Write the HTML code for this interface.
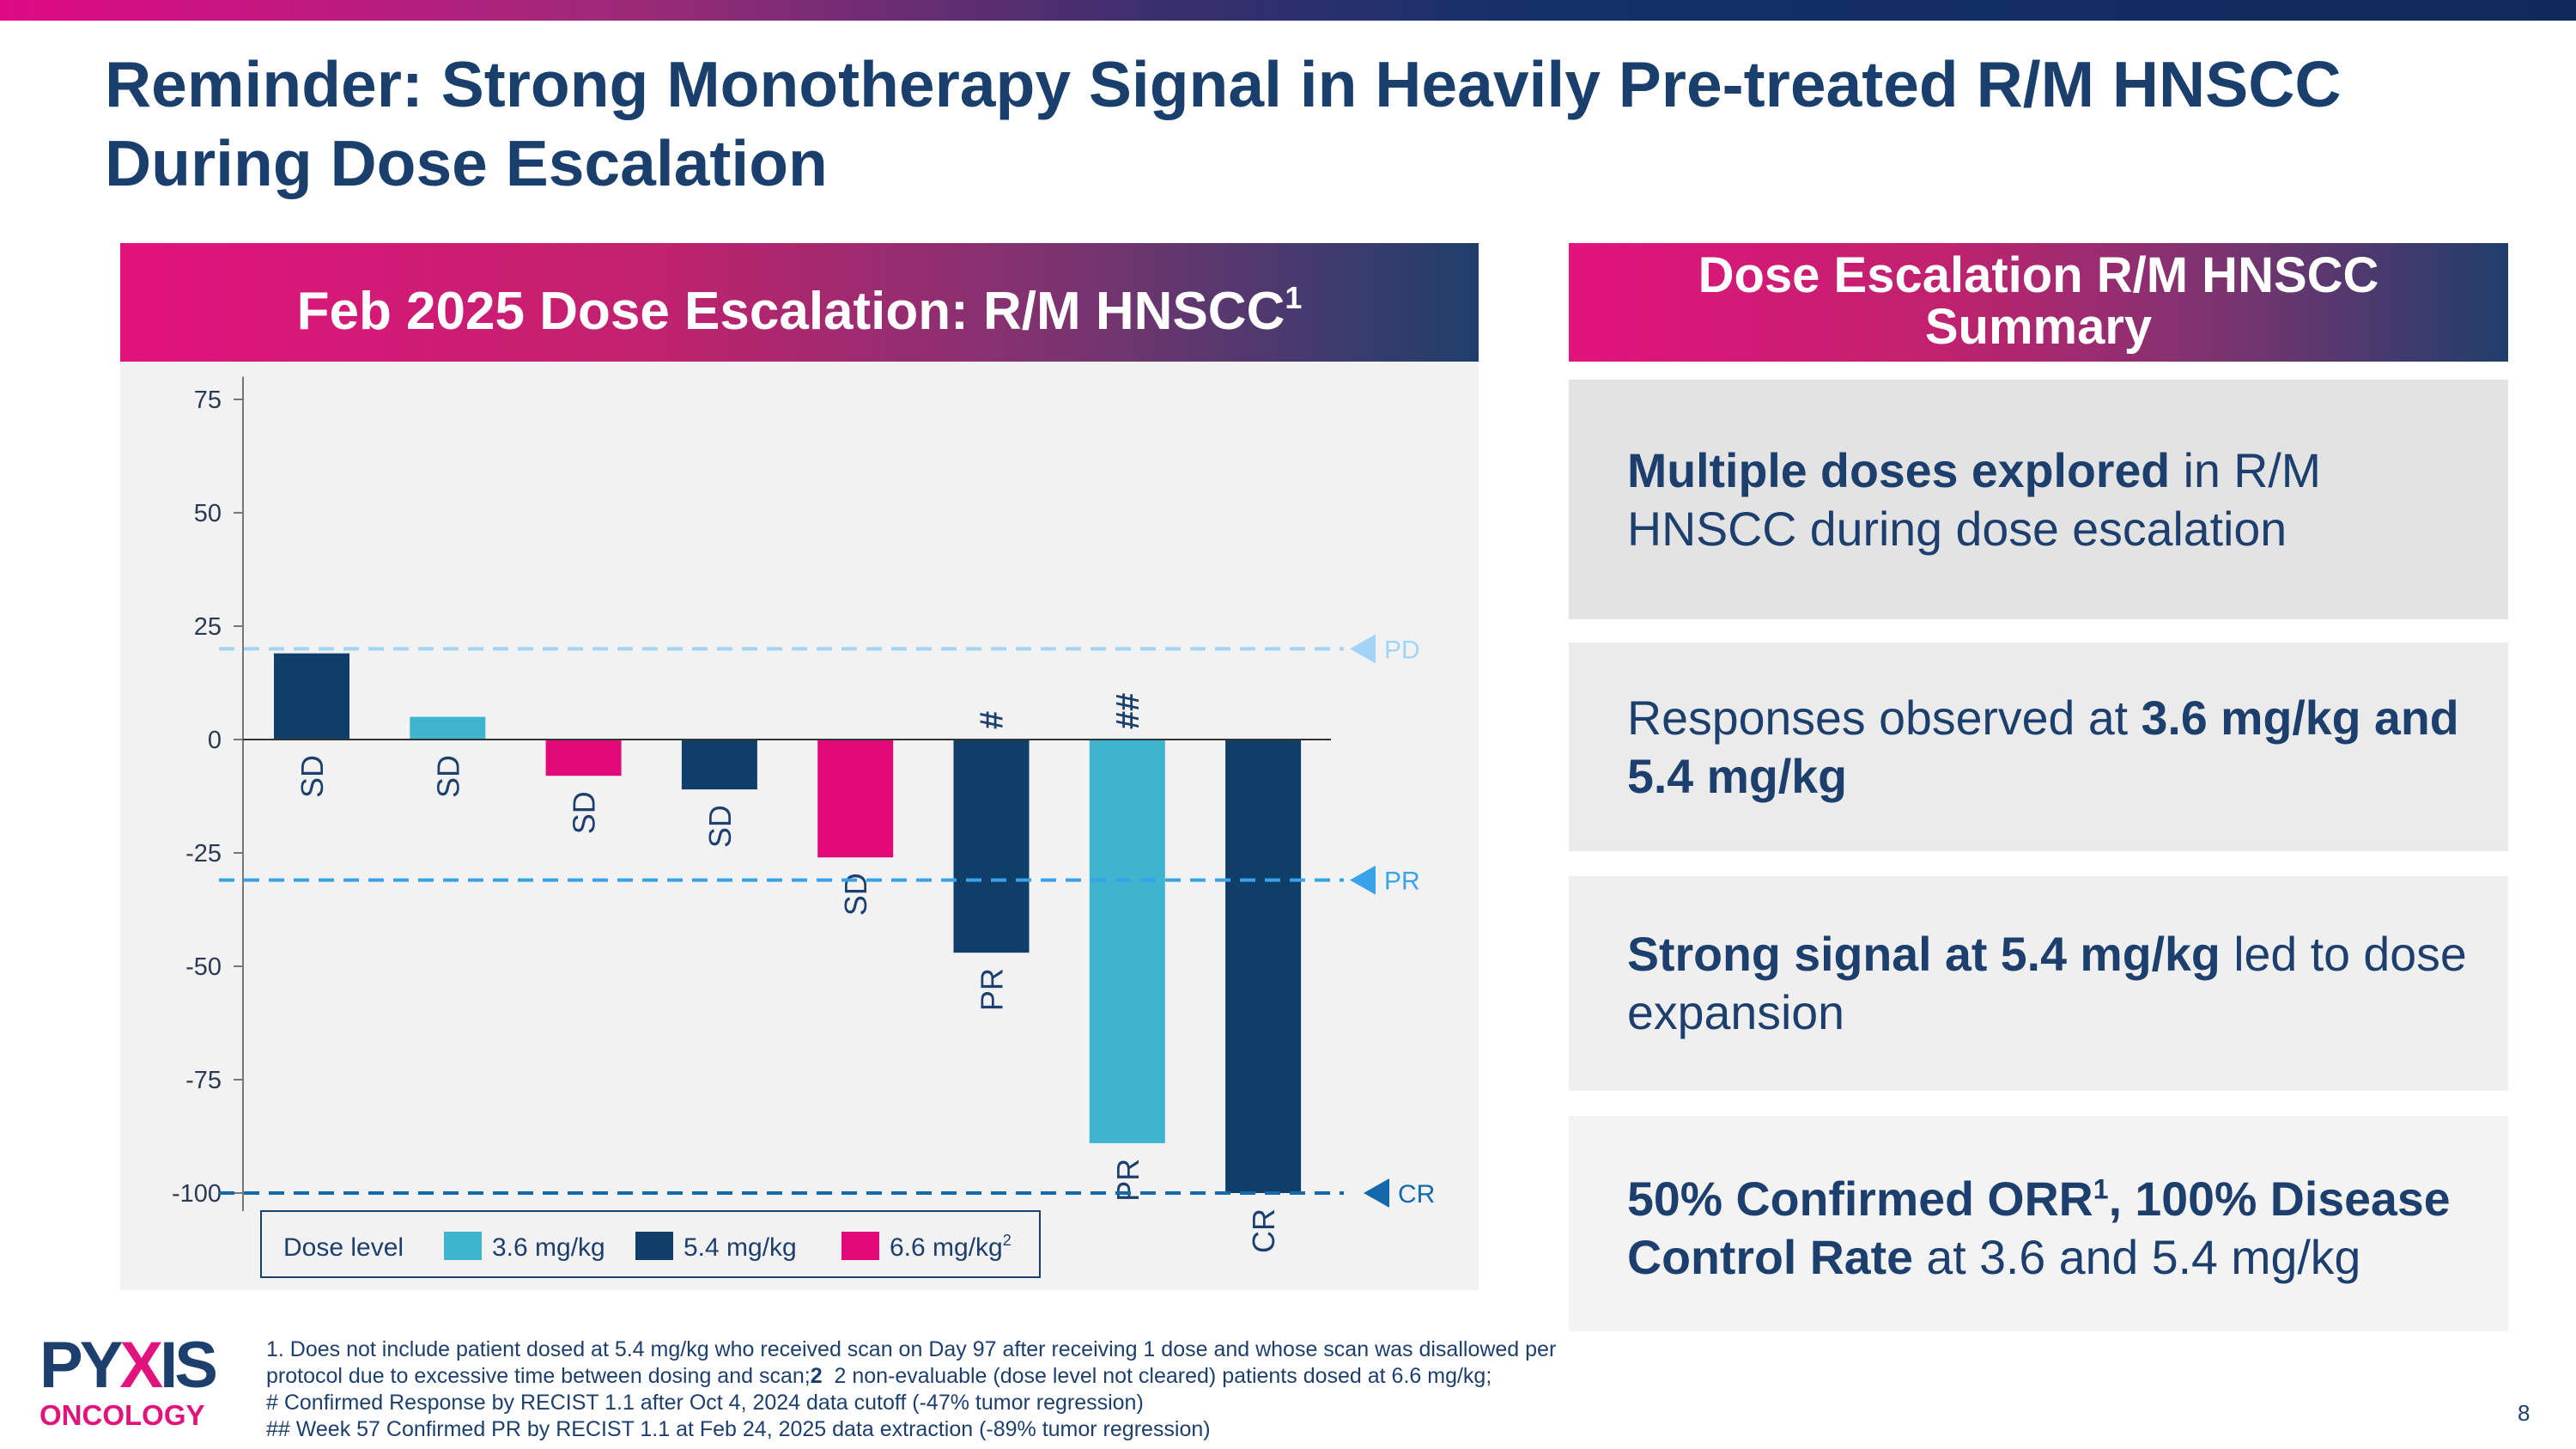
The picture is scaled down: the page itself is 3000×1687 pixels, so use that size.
<!DOCTYPE html>
<html><head><meta charset="utf-8"><style>
body{margin:0;width:3000px;height:1687px;background:#fff;position:relative;overflow:hidden;font-family:"Liberation Sans",Arial,sans-serif;color:#1d3f6e}
.abs{position:absolute}
.banner{left:0;top:0;width:3000px;height:24px;background:linear-gradient(90deg,#e10a86 0%,#9a2a78 25%,#3a2f6e 45%,#13306a 60%,#0f2a5a 100%)}
.title{left:122px;top:52px;font-size:75px;font-weight:bold;line-height:92px;color:#1a3f6c}
.hdr{background:linear-gradient(90deg,#e2137c 0%,#c0226f 40%,#7a3470 70%,#1f3e6c 100%);color:#fff;font-weight:bold;text-align:center}
.box{left:1827px;width:1094px;font-size:55.5px;line-height:68px;padding-left:68px;box-sizing:border-box;display:flex;align-items:center;color:#1d3f6e}
.fn{left:310px;top:1556px;font-size:25px;line-height:31px;color:#1d3f6e}
</style></head><body>
<div class="abs banner"></div>
<div class="abs title">Reminder: Strong Monotherapy Signal in Heavily Pre-treated R/M HNSCC<br>During Dose Escalation</div>

<div class="abs" style="left:140px;top:283px;width:1582px;height:1219px;background:#f2f2f2"></div>
<div class="abs hdr" style="left:140px;top:283px;width:1582px;height:138px;line-height:128px;font-size:62px">Feb 2025 Dose Escalation: R/M HNSCC<sup style="font-size:36px;vertical-align:24px">1</sup></div>

<svg class="abs" style="left:0;top:0" width="3000" height="1687" id="chart"></svg>

<div class="abs hdr" style="left:1827px;top:283px;width:1094px;height:138px;font-size:58px;line-height:60px;padding-top:8px;box-sizing:border-box">Dose Escalation R/M HNSCC<br>Summary</div>
<div class="abs box" style="top:442px;height:279px;background:#e3e3e3"><div><b>Multiple doses explored</b> in R/M<br>HNSCC during dose escalation</div></div>
<div class="abs box" style="top:748px;height:243px;background:#ebebeb"><div>Responses observed at <b>3.6 mg/kg and<br>5.4 mg/kg</b></div></div>
<div class="abs box" style="top:1020px;height:250px;background:#efefef"><div><b>Strong signal at 5.4 mg/kg</b> led to dose<br>expansion</div></div>
<div class="abs box" style="top:1299px;height:251px;background:#f3f3f3"><div><b>50% Confirmed ORR<sup style="font-size:32px">1</sup>, 100% Disease<br>Control Rate</b> at 3.6 and 5.4 mg/kg</div></div>

<div class="abs" style="left:46px;top:1552px;font-weight:bold;">
<div style="font-size:76px;line-height:76px;color:#1d3f6e;letter-spacing:-4px">PY<span style="color:#e2137c">X</span>IS</div>
<div style="font-size:33px;line-height:40px;color:#e2137c">ONCOLOGY</div></div>
<div class="abs fn">1. Does not include patient dosed at 5.4 mg/kg who received scan on Day 97 after receiving 1 dose and whose scan was disallowed per<br>protocol due to excessive time between dosing and scan;<b>2</b>&nbsp; 2 non-evaluable (dose level not cleared) patients dosed at 6.6 mg/kg;<br># Confirmed Response by RECIST 1.1 after Oct 4, 2024 data cutoff (-47% tumor regression)<br>## Week 57 Confirmed PR by RECIST 1.1 at Feb 24, 2025 data extraction (-89% tumor regression)</div>
<div class="abs" style="left:2932px;top:1630px;font-size:26px;color:#1d3f6e">8</div>

<script>
const values=[19,5,-8,-11,-26,-47,-89,-100];
const doses=["5.4","3.6","6.6","5.4","6.6","5.4","3.6","5.4"];
const responses=["SD","SD","SD","SD","SD","PR","PR","CR"];
const marks=["","","","","","#","##",""];
const yTicks=[75,50,25,0,-25,-50,-75,-100];
const thresholds=[20,-31,-100];
const thresholdLabels=["PD","PR","CR"];
const legendLabels=["3.6 mg/kg","5.4 mg/kg","6.6 mg/kg"];
const doseColor={"3.6":"#3db5cf","5.4":"#0f3f68","6.6":"#e20a7a"};
const thrColor=["#a3d4f5","#38a2ea","#1469ab"];
const svg=document.getElementById('chart');
const NS="http://www.w3.org/2000/svg";
const y=v=>861-v*5.28;
const x=i=>363+i*158.3;
function mk(t,a,txt){const e=document.createElementNS(NS,t);for(const k in a)e.setAttribute(k,a[k]);if(txt!==undefined)e.textContent=txt;svg.appendChild(e);return e;}
let e=mk('line',{x1:283,x2:283,y1:y(80),y2:y(-104),stroke:'#777','stroke-width':2});

yTicks.forEach(t=>{
 let l=mk('line',{x1:272,x2:283,y1:y(t),y2:y(t),stroke:'#777','stroke-width':2});
 
 let tx=mk('text',{x:258,y:y(t)+10,'text-anchor':'end','font-size':29,fill:'#2a3a55'},String(t));
 
});
values.forEach((v,i)=>{
 const top=Math.min(y(v),y(0)),h=Math.abs(y(v)-y(0));
 let r=mk('rect',{x:x(i)-44,y:top,width:88,height:h,fill:doseColor[doses[i]]});
 
 const start=(v>0?y(0):y(v))+18;
 let t=mk('text',{x:0,y:0,'font-size':36,fill:'#1d3f6e','text-anchor':'end',transform:`translate(${x(i)+13},${start}) rotate(-90)`},responses[i]);
 
 if(marks[i]){let m=mk('text',{x:0,y:0,'font-size':38,fill:'#1d3f6e','font-weight':'bold','text-anchor':'start',transform:`translate(${x(i)+13},${Math.min(y(v),y(0))-12}) rotate(-90)`},marks[i]);
 }
});
e=mk('line',{x1:283,x2:1550,y1:y(0),y2:y(0),stroke:'#333','stroke-width':2});

thresholds.forEach((t,i)=>{
 let l=mk('line',{x1:255,x2:1565,y1:y(t),y2:y(t),stroke:thrColor[i],'stroke-width':4,'stroke-dasharray':'18 11'});
 
 const ax=i==2?1588:1572;
 let p=mk('polygon',{points:`${ax},${y(t)} ${ax+30},${y(t)-17} ${ax+30},${y(t)+17}`,fill:thrColor[i]});
 
 let tx=mk('text',{x:ax+40,y:y(t)+11,'font-size':30,fill:thrColor[i]},thresholdLabels[i]);
 
});
e=mk('rect',{x:304,y:1410,width:907,height:77,fill:'none',stroke:'#1d3f6e','stroke-width':2});

e=mk('text',{x:330,y:1462,'font-size':30,fill:'#1d3f6e'},'Dose level');

const lx=[517,740,980];
let lastLegend=null;
legendLabels.forEach((s,i)=>{
 let r=mk('rect',{x:lx[i],y:1434,width:44,height:33,fill:doseColor[s.split(' ')[0]]});
 
 let t=mk('text',{x:lx[i]+56,y:1462,'font-size':30,fill:'#1d3f6e'},s);
 
 lastLegend=t;
});
const sp=document.createElementNS(NS,'tspan');sp.setAttribute('font-size','18');sp.setAttribute('dy','-12');sp.textContent='2';lastLegend.appendChild(sp);
</script>
</body></html>
